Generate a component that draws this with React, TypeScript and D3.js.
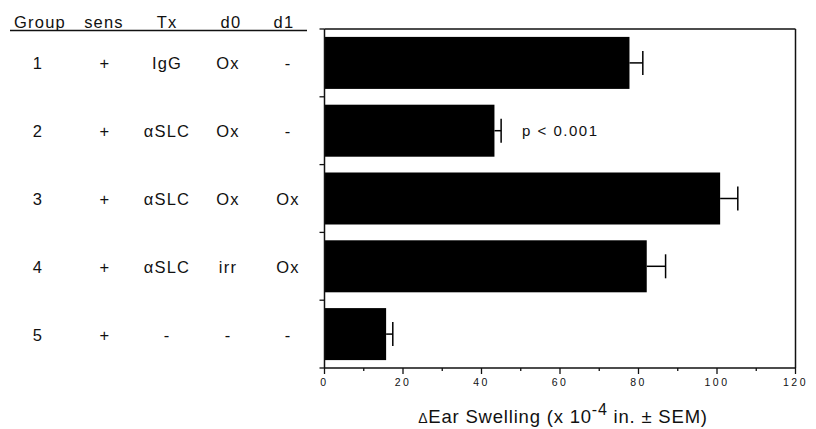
import React from "react";
import * as d3 from "d3";

const groups = ["1", "2", "3", "4", "5"];
const sensCol = ["+", "+", "+", "+", "+"];
const txCol = ["IgG", "αSLC", "αSLC", "αSLC", "-"];
const d0Col = ["Ox", "Ox", "Ox", "irr", "-"];
const d1Col = ["-", "-", "Ox", "Ox", "-"];
const means = [77.7, 43.3, 100.8, 82.1, 15.7];
const sems = [3.4, 1.7, 4.5, 4.8, 1.7];
const headers = ["Group", "sens", "Tx", "d0", "d1"];
const xTicks = [0, 20, 40, 60, 80, 100, 120];
const xMinor = [10, 30, 50, 70, 90, 110];
const pNote = "p < 0.001";

const W = 816;
const H = 429;
const FONT = "'Liberation Sans', Arial, Helvetica, sans-serif";

export default function App() {
  const x = d3.scaleLinear().domain([0, 120]).range([324.5, 795.5]);
  const y = d3
    .scaleBand<string>()
    .domain(groups)
    .range([29, 368])
    .paddingInner(0.233)
    .paddingOuter(0.1165);
  const step = y.step();
  const top = 29;
  const bottom = 368;
  const bandCenter = (g: string) => (y(g) as number) + y.bandwidth() / 2;
  const colX = [38, 105, 167, 228, 288];
  const headerX = [40, 104, 167, 231, 284];
  const rows = groups.map((g, i) => [g, sensCol[i], txCol[i], d0Col[i], d1Col[i]]);
  const boundaries = d3.range(groups.length + 1).map((i) => top + i * step);
  const capH = 24;

  return (
    <svg
      width={W}
      height={H}
      style={{ position: "absolute", left: 0, top: 0, background: "#fff" }}
      fontFamily={FONT}
    >
      <rect x={0} y={0} width={W} height={H} fill="#fff" />
      {headers.map((h, i) => (
        <text
          key={h}
          x={headerX[i]}
          y={28}
          textAnchor="middle"
          fontSize={16.5}
          letterSpacing={1.2}
          fill="#111"
        >
          {h}
        </text>
      ))}
      <line x1={10} x2={307} y1={30.5} y2={30.5} stroke="#111" strokeWidth={1.3} />
      {rows.map((r, i) =>
        r.map((c, j) => (
          <text
            key={`${i}-${j}`}
            x={colX[j]}
            y={bandCenter(groups[i]) + 6.5}
            textAnchor="middle"
            fontSize={16.5}
            letterSpacing={1.2}
            fill="#111"
          >
            {c}
          </text>
        ))
      )}
      {groups.map((g, i) => (
        <rect
          key={g}
          x={x(0)}
          y={y(g)}
          width={x(means[i]) - x(0)}
          height={y.bandwidth()}
          fill="#000"
        />
      ))}
      {groups.map((g, i) => {
        const cy = bandCenter(g);
        const xe = x(means[i] + sems[i]);
        return (
          <g key={`e${g}`} stroke="#000" strokeWidth={1.5}>
            <line x1={x(means[i])} x2={xe} y1={cy} y2={cy} />
            <line x1={xe} x2={xe} y1={cy - capH / 2} y2={cy + capH / 2} />
          </g>
        );
      })}
      <g stroke="#111" strokeWidth={1.5} fill="none">
        <line x1={x(0)} x2={x(120)} y1={top} y2={top} />
        <line x1={x(120)} x2={x(120)} y1={top} y2={bottom} />
        <line x1={x(0)} x2={x(0)} y1={top} y2={bottom} />
        <line x1={x(0)} x2={x(120)} y1={bottom} y2={bottom} />
      </g>
      {boundaries.map((b, i) => (
        <line key={`lt${i}`} x1={x(0) - 5} x2={x(0)} y1={b} y2={b} stroke="#111" strokeWidth={1.3} />
      ))}
      {xTicks.map((t) => (
        <g key={`t${t}`}>
          <line x1={x(t)} x2={x(t)} y1={bottom} y2={bottom + 6} stroke="#111" strokeWidth={1.3} />
          <text
            x={x(t)}
            y={386}
            textAnchor="middle"
            fontSize={10.5}
            letterSpacing={2.5}
            fill="#111"
          >
            {t}
          </text>
        </g>
      ))}
      {xMinor.map((t) => (
        <line key={`m${t}`} x1={x(t)} x2={x(t)} y1={bottom} y2={bottom + 3} stroke="#111" strokeWidth={1.3} />
      ))}
      <text x={522} y={136} fontSize={15} letterSpacing={1.5} fill="#111">
        {pNote}
      </text>
      <text x={563} y={423} textAnchor="middle" fontSize={18.5} letterSpacing={0.8} fill="#111">
        <tspan fontSize={14}>Δ</tspan>
        <tspan>Ear Swelling (x 10</tspan>
        <tspan dy={-8} fontSize={16}>-4</tspan>
        <tspan dy={8}> in. ± SEM)</tspan>
      </text>
    </svg>
  );
}
